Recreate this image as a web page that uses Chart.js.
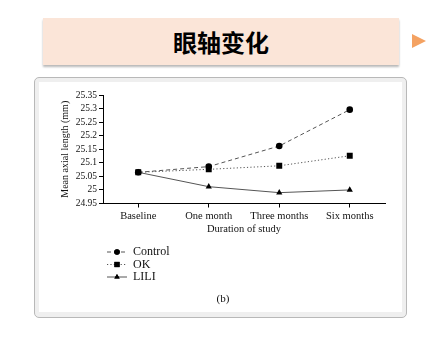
<!DOCTYPE html>
<html>
<head>
<meta charset="utf-8">
<script src="https://cdn.jsdelivr.net/npm/chart.js@4"></script>
<style>
  html, body { margin: 0; padding: 0; background: #fff; }
  body { width: 446px; height: 337px; position: relative; overflow: hidden; }
  .title-box {
    position: absolute; left: 43px; top: 18px; width: 356px; height: 47px;
    background: #fbe5d8; box-shadow: 0 2px 2px rgba(0,0,0,0.28);
    display: flex; align-items: center; justify-content: center;
    font: 700 24px "Noto Sans CJK SC", sans-serif; color: #000;
  }
  .arrow {
    position: absolute; left: 412px; top: 34px; width: 0; height: 0;
    border-top: 7.5px solid transparent; border-bottom: 7.5px solid transparent;
    border-left: 14px solid #f4a262;
  }
  .panel {
    position: absolute; left: 34px; top: 77px; width: 371px; height: 239px;
    border: 1px solid #b8b8b8; border-radius: 5px; background: #efefef;
  }
  .inner {
    position: absolute; left: 39px; top: 82px; width: 363px; height: 230px; background: #fff;
  }
  #chart { position: absolute; left: 40px; top: 82px; }
  .caption {
    position: absolute; left: 0; width: 446px; top: 292px; text-align: center;
    font: 11px "Liberation Serif", serif; color: #111;
  }
</style>
</head>
<body>
<div class="title-box">眼轴变化</div>
<div class="arrow"></div>
<div class="panel"></div>
<div class="inner"></div>
<canvas id="chart" width="362" height="230"></canvas>
<div class="caption">(b)</div>
<script>
const categories = ["Baseline", "One month", "Three months", "Six months"];
const controlValues = [25.065, 25.086, 25.162, 25.296];
const okValues = [25.065, 25.076, 25.089, 25.126];
const liliValues = [25.065, 25.012, 24.990, 25.000];
const seriesNames = ["Control", "OK", "LILI"];
const yTicks = [24.95, 25, 25.05, 25.1, 25.15, 25.2, 25.25, 25.3, 25.35];

const serif = "'Liberation Serif', serif";

function makeSeries(label, data, dash, pointStyle, radius) {
  return {
    label,
    data,
    borderColor: "#555",
    borderWidth: 1,
    borderDash: dash,
    pointStyle,
    pointRadius: radius,
    pointBackgroundColor: "#000",
    pointBorderColor: "#000",
    pointBorderWidth: 0,
    tension: 0,
    fill: false,
  };
}

// legend drawn under the axis, with the dataset's own line and marker styles
const sampleLegend = {
  id: "sampleLegend",
  afterDraw(chart) {
    const { ctx } = chart;
    const rows = [170, 182.5, 195];
    chart.data.datasets.forEach((ds, i) => {
      const y = rows[i];
      ctx.save();
      ctx.strokeStyle = ds.borderColor;
      ctx.lineWidth = 1;
      ctx.setLineDash(ds.borderDash);
      ctx.beginPath();
      ctx.moveTo(67, y);
      ctx.lineTo(87, y);
      ctx.stroke();
      ctx.setLineDash([]);
      Chart.helpers.drawPoint(ctx, {
        pointStyle: ds.pointStyle,
        radius: ds.pointRadius - 0.5,
        borderWidth: 0,
        rotation: 0,
      }, 77, y);
      ctx.fillStyle = "#000";
      ctx.fill();
      ctx.fillStyle = "#111";
      ctx.font = "12px " + serif;
      ctx.textBaseline = "middle";
      ctx.textAlign = "left";
      ctx.fillText(ds.label, 93, y);
      ctx.restore();
    });
  },
};

new Chart(document.getElementById("chart"), {
  type: "line",
  data: {
    labels: categories,
    datasets: [
      makeSeries(seriesNames[0], controlValues, [4, 3], "circle", 3.3),
      makeSeries(seriesNames[1], okValues, [1.2, 2.2], "rect", 4.2),
      makeSeries(seriesNames[2], liliValues, [], "triangle", 3.6),
    ],
  },
  options: {
    responsive: false,
    animation: false,
    layout: { padding: { left: 19, top: 13, right: 17, bottom: 76.5 } },
    plugins: { legend: { display: false }, tooltip: { enabled: false } },
    scales: {
      x: {
        offset: true,
        border: { color: "#000", width: 1 },
        grid: { display: true, drawOnChartArea: false, color: "#000", tickLength: 4, offset: false },
        ticks: { color: "#111", font: { family: serif, size: 10.5 }, padding: 2, maxRotation: 0, autoSkip: false },
        title: { display: true, text: "Duration of study", color: "#111", font: { family: serif, size: 10.5 }, padding: { top: 1, bottom: 0 } },
        afterFit(scale) { scale.height = 32; },
      },
      y: {
        min: 24.95,
        max: 25.35,
        afterBuildTicks(scale) { scale.ticks = yTicks.map((v) => ({ value: v })); },
        border: { color: "#000", width: 1 },
        grid: { display: true, drawOnChartArea: false, color: "#000", tickLength: 4 },
        ticks: {
          color: "#111",
          font: { family: serif, size: 9.5 },
          padding: 2,
          autoSkip: false,
          callback: (v) => String(parseFloat(Number(v).toFixed(2))),
        },
        title: { display: true, text: "Mean axial length (mm)", color: "#111", font: { family: serif, size: 10 }, padding: { top: 0, bottom: 1 } },
        afterFit(scale) { scale.width = 44; },
      },
    },
  },
  plugins: [sampleLegend],
});
</script>
</body>
</html>
